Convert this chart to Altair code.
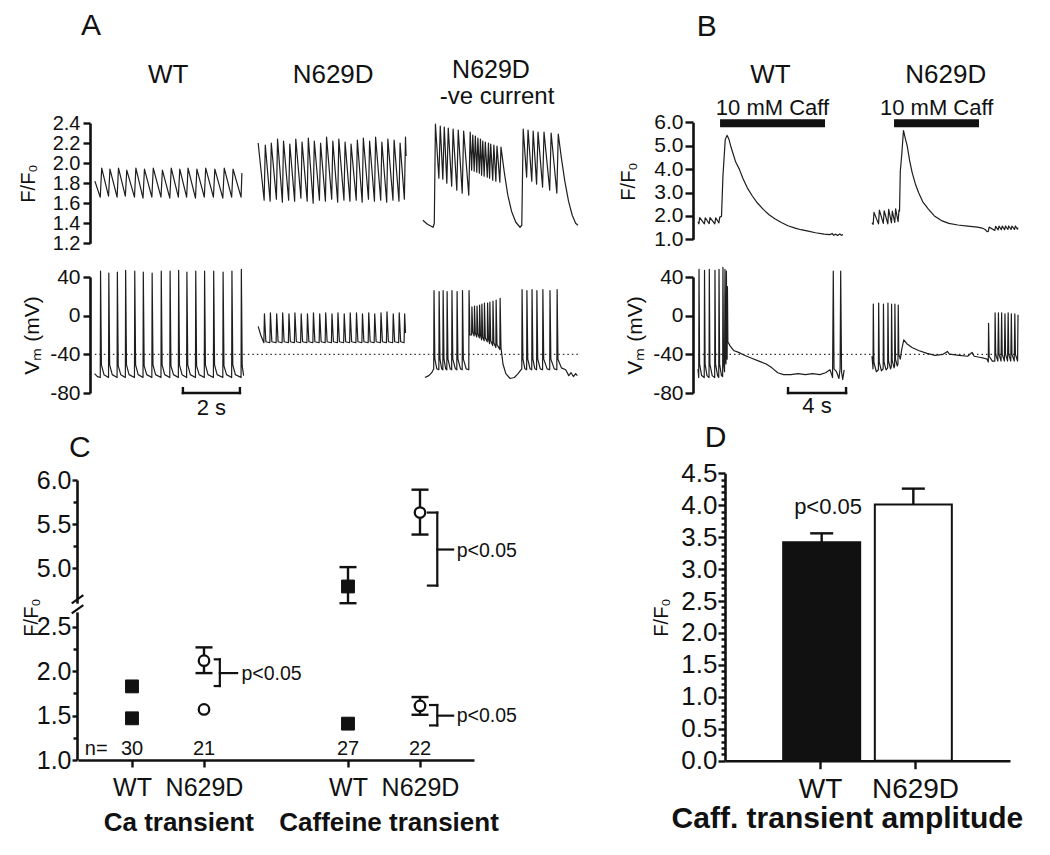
import altair as alt
import pandas as pd

FONT = "Liberation Sans"
INK = "#111111"
TRACE = "#1e1e1e"

# ------------------------------------------------------------------
# Panel A : Ca transients (F/F0) and membrane potential (mV), time in s
# ------------------------------------------------------------------
A_WT_CA = [(0.03, 1.82), (0.22, 1.66), (0.27, 1.95), (0.51, 1.67), (0.56, 1.94), (0.81, 1.66), (0.86, 1.95),
           (1.10, 1.67), (1.15, 1.93), (1.42, 1.66), (1.47, 1.95), (1.72, 1.65), (1.77, 1.94), (2.03, 1.66),
           (2.08, 1.95), (2.35, 1.66), (2.40, 1.93), (2.66, 1.65), (2.71, 1.95), (2.96, 1.66), (3.01, 1.94),
           (3.25, 1.66), (3.30, 1.95), (3.56, 1.65), (3.61, 1.94), (3.87, 1.66), (3.92, 1.95), (4.19, 1.66),
           (4.24, 1.94), (4.52, 1.65), (4.57, 1.95), (4.83, 1.66), (4.88, 1.94), (5.16, 1.66), (5.19, 1.90)]
A_N629D_CA = [(5.76, 2.20), (5.97, 1.63), (6.01, 2.18), (6.18, 1.62), (6.22, 2.20), (6.40, 1.64), (6.44, 2.24),
              (6.61, 1.61), (6.65, 2.22), (6.83, 1.63), (6.87, 2.19), (7.04, 1.62), (7.08, 2.24), (7.26, 1.65),
              (7.30, 2.21), (7.48, 1.62), (7.52, 2.25), (7.69, 1.60), (7.73, 2.22), (7.91, 1.63), (7.95, 2.20),
              (8.12, 1.62), (8.16, 2.26), (8.34, 1.64), (8.38, 2.22), (8.55, 1.61), (8.59, 2.24), (8.77, 1.63),
              (8.81, 2.21), (8.98, 1.62), (9.02, 2.19), (9.20, 1.63), (9.24, 2.23), (9.41, 1.61), (9.45, 2.25),
              (9.63, 1.64), (9.67, 2.22), (9.84, 1.62), (9.88, 2.26), (10.06, 1.63), (10.10, 2.21), (10.27, 1.61),
              (10.31, 2.24), (10.49, 1.63), (10.53, 2.23), (10.70, 1.62), (10.74, 2.20), (10.89, 1.64),
              (10.93, 2.26), (10.95, 2.07)]
A_NEG_CA = [(11.54, 1.43), (11.70, 1.39), (11.90, 1.36), (11.94, 1.40), (11.98, 2.39), (12.10, 1.85), (12.15, 2.37),
            (12.24, 1.84), (12.29, 2.36), (12.38, 1.80), (12.43, 2.35), (12.55, 1.77), (12.60, 2.34), (12.73, 1.73),
            (12.78, 2.33), (12.92, 1.70), (12.97, 2.32), (13.15, 1.68), (13.20, 2.31), (13.25, 1.93), (13.29, 2.28),
            (13.34, 1.92), (13.38, 2.27), (13.43, 1.91), (13.47, 2.25), (13.52, 1.90), (13.56, 2.24), (13.60, 1.88),
            (13.64, 2.22), (13.69, 1.87), (13.73, 2.21), (13.80, 1.86), (13.84, 2.20), (13.88, 1.85), (13.92, 2.19),
            (13.99, 1.83), (14.03, 2.18), (14.10, 1.82), (14.14, 2.17), (14.24, 1.81), (14.28, 2.16), (14.40, 1.90),
            (14.52, 1.68), (14.65, 1.52), (14.80, 1.41), (14.95, 1.36), (15.01, 1.38), (15.06, 2.34), (15.18, 1.86),
            (15.23, 2.33), (15.36, 1.82), (15.41, 2.32), (15.53, 1.79), (15.58, 2.31), (15.74, 1.76), (15.79, 2.31),
            (15.99, 1.73), (16.04, 2.30), (16.24, 1.70), (16.29, 2.29), (16.40, 2.05), (16.52, 1.82), (16.65, 1.62),
            (16.78, 1.48), (16.90, 1.40), (16.98, 1.38)]
A_WT_VM = [(0.02, -60), (0.12, -63), (0.22, -64), (0.23, 46), (0.26, -51), (0.35, -61), (0.51, -64), (0.52, 44),
           (0.55, -51), (0.64, -61), (0.81, -64), (0.82, 45), (0.85, -52), (0.94, -61), (1.10, -64), (1.11, 47),
           (1.14, -51), (1.23, -61), (1.42, -64), (1.43, 46), (1.46, -51), (1.55, -61), (1.72, -64), (1.73, 45),
           (1.76, -52), (1.85, -61), (2.03, -64), (2.04, 44), (2.07, -51), (2.16, -61), (2.35, -64), (2.36, 46),
           (2.39, -51), (2.48, -61), (2.66, -64), (2.67, 46), (2.70, -52), (2.79, -61), (2.96, -64), (2.97, 47),
           (3.00, -51), (3.09, -61), (3.25, -64), (3.26, 45), (3.29, -51), (3.38, -61), (3.56, -64), (3.57, 46),
           (3.60, -52), (3.69, -61), (3.87, -64), (3.88, 46), (3.91, -51), (4.00, -61), (4.19, -64), (4.20, 46),
           (4.23, -51), (4.32, -61), (4.52, -64), (4.53, 45), (4.56, -52), (4.65, -61), (4.83, -64), (4.84, 46),
           (4.87, -51), (4.96, -61), (5.16, -64), (5.17, 48), (5.20, -52), (5.25, -62)]
A_N629D_VM = [(5.76, -11), (5.85, -20), (5.93, -26), (5.96, -28), (5.98, 2), (6.03, -27), (6.17, -28), (6.19, 3),
              (6.24, -27), (6.39, -28), (6.41, 2), (6.46, -27), (6.60, -28), (6.62, 3), (6.67, -27), (6.82, -28),
              (6.84, 2), (6.89, -27), (7.03, -28), (7.05, 3), (7.10, -27), (7.25, -28), (7.27, 2), (7.32, -27),
              (7.47, -28), (7.49, 2), (7.54, -27), (7.68, -28), (7.70, 3), (7.75, -27), (7.90, -28), (7.92, 2),
              (7.97, -27), (8.11, -28), (8.13, 3), (8.18, -27), (8.33, -28), (8.35, 2), (8.40, -27), (8.54, -28),
              (8.56, 3), (8.61, -27), (8.76, -28), (8.78, 2), (8.83, -27), (8.97, -28), (8.99, 3), (9.04, -27),
              (9.19, -28), (9.21, 3), (9.26, -27), (9.40, -28), (9.42, 2), (9.47, -27), (9.62, -28), (9.64, 3),
              (9.69, -27), (9.83, -28), (9.85, 2), (9.90, -27), (10.05, -28), (10.07, 3), (10.12, -27),
              (10.26, -28), (10.28, 4), (10.33, -27), (10.48, -28), (10.50, 2), (10.55, -27), (10.69, -28),
              (10.71, 3), (10.76, -27), (10.88, -28), (10.90, 2), (10.93, -18)]
A_NEG_VM = [(11.61, -64), (11.75, -62), (11.85, -59), (11.92, -55), (11.93, 26), (11.96, -45), (12.03, -55),
            (12.10, -56), (12.11, 25), (12.14, -45), (12.20, -55), (12.24, -56), (12.25, 26), (12.28, -45),
            (12.34, -55), (12.38, -56), (12.39, 25), (12.42, -45), (12.50, -55), (12.55, -56), (12.56, 26),
            (12.59, -45), (12.68, -55), (12.73, -56), (12.74, 25), (12.77, -45), (12.86, -55), (12.92, -56),
            (12.93, 26), (12.96, -45), (13.06, -55), (13.15, -56), (13.16, 26), (13.19, -20), (13.25, -20),
            (13.26, 9), (13.29, -17), (13.34, -21), (13.35, 10), (13.38, -18), (13.43, -22), (13.44, 10),
            (13.47, -19), (13.52, -23), (13.53, 11), (13.56, -20), (13.60, -25), (13.61, 12), (13.64, -22),
            (13.69, -26), (13.70, 13), (13.73, -23), (13.80, -27), (13.81, 13), (13.84, -24), (13.88, -29),
            (13.89, 14), (13.92, -26), (13.99, -31), (14.00, 15), (14.03, -28), (14.10, -33), (14.11, 16),
            (14.14, -30), (14.24, -35), (14.25, 18), (14.28, -33), (14.35, -50), (14.45, -60), (14.60, -65),
            (14.75, -64), (14.88, -60), (14.98, -56), (15.01, -55), (15.02, 27), (15.05, -45), (15.12, -55),
            (15.18, -56), (15.19, 26), (15.22, -45), (15.30, -55), (15.36, -56), (15.37, 27), (15.40, -45),
            (15.47, -55), (15.53, -56), (15.54, 26), (15.57, -45), (15.66, -55), (15.74, -56), (15.75, 27),
            (15.78, -45), (15.90, -55), (15.99, -56), (16.00, 26), (16.03, -45), (16.15, -55), (16.24, -56),
            (16.25, 27), (16.28, -45), (16.40, -54), (16.55, -56), (16.66, -62), (16.74, -59), (16.82, -63),
            (16.90, -60), (16.96, -62)]
A_REF_MV = -40
A_REF_SPAN = (0.03, 17.0)
A_SCALEBAR = (3.12, 5.12)

# ------------------------------------------------------------------
# Panel B : 10 mM caffeine application
# ------------------------------------------------------------------
B_WT_CA = [(0.00, 1.75), (0.06, 1.66), (0.12, 1.93), (0.44, 1.66), (0.50, 1.92), (0.77, 1.67), (0.83, 1.93),
           (1.16, 1.66), (1.22, 1.92), (1.44, 1.70), (1.50, 1.95), (1.62, 1.98), (1.72, 3.70), (1.88, 5.27),
           (2.00, 5.44), (2.12, 5.30), (2.25, 5.00), (2.40, 4.70), (2.60, 4.30), (2.85, 4.00), (3.10, 3.60),
           (3.40, 3.20), (3.75, 2.85), (4.10, 2.55), (4.50, 2.28), (4.90, 2.05), (5.30, 1.88), (5.75, 1.72),
           (6.20, 1.58), (6.70, 1.48), (7.10, 1.41), (7.60, 1.35), (8.10, 1.28), (8.70, 1.22), (9.10, 1.20),
           (9.25, 1.25), (9.35, 1.17), (9.50, 1.22), (9.62, 1.16), (9.78, 1.23), (9.90, 1.17), (10.00, 1.20)]
B_N629D_CA = [(12.00, 1.70), (12.08, 1.64), (12.14, 2.15), (12.45, 1.66), (12.51, 2.25), (12.78, 1.68),
              (12.84, 2.22), (13.09, 1.66), (13.15, 2.28), (13.34, 1.70), (13.40, 2.20), (13.57, 1.72),
              (13.63, 2.30), (13.80, 1.75), (13.86, 2.25), (13.90, 2.20), (13.95, 3.90), (14.05, 4.60),
              (14.17, 5.65), (14.30, 5.30), (14.43, 4.98), (14.60, 4.35), (14.77, 3.85), (15.00, 3.35),
              (15.21, 3.00), (15.50, 2.60), (15.89, 2.29), (16.30, 2.00), (16.79, 1.80), (17.30, 1.68),
              (17.92, 1.61), (18.60, 1.56), (19.27, 1.52), (19.60, 1.48), (19.80, 1.42), (19.94, 1.33),
              (20.02, 1.34), (20.08, 1.52), (20.47, 1.38), (20.53, 1.55), (20.70, 1.40), (20.76, 1.56),
              (20.92, 1.41), (20.98, 1.56), (21.15, 1.41), (21.21, 1.57), (21.37, 1.42), (21.43, 1.57),
              (21.59, 1.42), (21.65, 1.56), (21.83, 1.42), (21.89, 1.57), (22.03, 1.43), (22.07, 1.50)]
B_WT_VM = [(0.00, -55), (0.05, -64), (0.07, 48), (0.11, -50), (0.25, -62), (0.43, -64), (0.45, 47), (0.49, -50),
           (0.62, -62), (0.76, -64), (0.78, 48), (0.82, -50), (0.98, -62), (1.15, -64), (1.17, 47), (1.21, -50),
           (1.35, -62), (1.43, -64), (1.45, 48), (1.49, -50), (1.62, -62), (1.70, -63), (1.72, 50), (1.76, -48),
           (1.83, -58), (1.86, 48), (1.89, -45), (1.93, -50), (1.96, 46), (1.99, -38), (2.01, -45), (2.03, 30),
           (2.06, -27), (2.20, -31), (2.45, -36), (2.80, -38), (3.20, -41), (3.70, -44), (4.20, -47), (4.70, -50),
           (5.10, -54), (5.50, -59), (5.90, -61), (6.40, -61), (6.90, -60), (7.40, -61), (7.90, -60), (8.40, -61),
           (8.80, -59), (9.10, -56), (9.20, -60), (9.28, -64), (9.33, 46), (9.38, -55), (9.55, -58), (9.72, -65),
           (9.80, -55), (9.84, 46), (9.90, -58), (9.98, -66), (10.08, -56)]
B_N629D_VM = [(12.00, -42), (12.07, -55), (12.09, 12), (12.13, -48), (12.30, -58), (12.44, -56), (12.46, 13),
              (12.50, -48), (12.65, -57), (12.77, -55), (12.79, 12), (12.83, -48), (12.97, -56), (13.08, -54),
              (13.10, 13), (13.14, -47), (13.28, -55), (13.33, -53), (13.35, 12), (13.39, -46), (13.52, -54),
              (13.56, -52), (13.58, 12), (13.62, -45), (13.74, -52), (13.79, -50), (13.81, 11), (13.85, -40),
              (13.95, -45), (14.05, -35), (14.19, -25), (14.40, -29), (14.76, -33), (15.21, -36), (15.80, -39),
              (16.34, -41), (16.90, -40), (17.20, -37), (17.35, -40), (17.48, -40), (18.00, -41), (18.60, -42),
              (18.90, -38), (19.05, -42), (19.40, -43), (19.72, -44), (19.94, -45), (20.02, -48), (20.04, -8),
              (20.08, -42), (20.30, -47), (20.47, -47), (20.49, 3), (20.53, -40), (20.68, -47), (20.72, 3),
              (20.76, -40), (20.90, -47), (20.94, 3), (20.98, -40), (21.13, -47), (21.17, 2), (21.21, -40),
              (21.35, -47), (21.39, 3), (21.43, -40), (21.57, -47), (21.61, 2), (21.65, -40), (21.81, -47),
              (21.85, 2), (21.89, -40), (22.04, -47), (22.07, 1)]
B_CAFF = [(1.52, 8.76), (13.52, 19.38)]
B_REF_SPAN = (0.0, 22.07)
B_SCALEBAR = (6.21, 10.21)

# ------------------------------------------------------------------
# Panel C : mean +/- SEM, broken F/F0 axis
# ------------------------------------------------------------------
C_POS = [1, 2, 4, 5]
C_N = ["30", "21", "27", "22"]
C_LOW_POS = [1, 1, 2, 2, 4, 5]
C_LOW_GENO = ["WT", "WT", "N629D", "N629D", "WT", "N629D"]
C_LOW_MEAN = [1.83, 1.47, 2.12, 1.57, 1.41, 1.61]
C_LOW_LO = [1.80, 1.45, 1.98, 1.54, 1.37, 1.51]
C_LOW_HI = [1.86, 1.49, 2.27, 1.60, 1.45, 1.71]
C_HIGH_POS = [4, 5]
C_HIGH_GENO = ["WT", "N629D"]
C_HIGH_MEAN = [4.79, 5.63]
C_HIGH_LO = [4.60, 5.38]
C_HIGH_HI = [5.01, 5.89]

# ------------------------------------------------------------------
# Panel D : caffeine transient amplitude
# ------------------------------------------------------------------
D_POS = [1, 2]
D_GENO = ["WT", "N629D"]
D_MEAN = [3.42, 4.01]
D_TOP = [3.56, 4.26]


# ============================ helpers =============================
def px(v):
    return v - 8


def lin(domain, rng):
    return alt.Scale(domain=domain, range=[px(r) for r in rng], nice=False, zero=False)


A_X = lin([0, 17.1], [94, 581.35])
A_CA = lin([1.2, 2.4], [243.3, 123])
VM = lin([-80, 40], [393, 277])
B_X = lin([0, 22.2], [698, 1019.9])
B_CA = lin([1, 6], [239.3, 122.3])
C_X = lin([0.25, 5.75], [78, 474])
C_LO = lin([1.0, 2.67], [760, 611.9])
C_HI = lin([4.6, 6.0], [603.2, 480])
D_X = lin([0, 3], [725, 1010])
D_Y = lin([0, 4.5], [760.7, 473.3])


def left_axis(X, values, labels=True, fmt=None, expr=None, size=22, tick=7, pad=3,
              title="", tx=0, ty=0, tsize=21, domain=True):
    kw = dict(orient="left", offset=8 - X, values=values, grid=False, ticks=True,
              tickSize=tick, tickWidth=2.4, tickColor=INK, domain=domain,
              domainWidth=2.6, domainColor=INK, labels=labels, labelOverlap=False,
              labelFlush=False, title=title)
    if labels:
        kw.update(labelFont=FONT, labelFontSize=size, labelColor=INK, labelPadding=pad)
        if expr:
            kw["labelExpr"] = expr
        elif fmt:
            kw["format"] = fmt
    if title:
        kw.update(titleX=tx, titleY=ty, titleFont=FONT, titleFontSize=tsize,
                  titleFontWeight="normal", titleColor=INK, titleAngle=270,
                  titleBaseline="alphabetic", titleAlign="center")
    return alt.Axis(**kw)


def bottom_axis(Y, values, expr, size, tick, pad):
    return alt.Axis(orient="bottom", offset=Y - 847, values=values, labelExpr=expr, grid=False,
                    tickSize=tick, tickWidth=2.4, tickColor=INK, domainWidth=2.6, domainColor=INK,
                    labelFont=FONT, labelFontSize=size, labelColor=INK, labelPadding=pad,
                    labelOverlap=False, labelFlush=False, title="")


def XQ(field, scale, axis=None):
    return alt.X(f"{field}:Q", scale=scale, axis=axis)


def YQ(field, scale, axis=None):
    return alt.Y(f"{field}:Q", scale=scale, axis=axis)


def y_axis_layer(values, scale, axis):
    """Invisible marks that only carry an axis for the given scale."""
    return alt.Chart(pd.DataFrame({"v": values})).mark_point(opacity=0).encode(y=YQ("v", scale, axis))


def x_axis_layer(values, scale, axis):
    return alt.Chart(pd.DataFrame({"v": values})).mark_point(opacity=0).encode(x=XQ("v", scale, axis))


def traces(sx, sy, named):
    rows = []
    for name, pts in named.items():
        for i, (t, v) in enumerate(pts):
            rows.append({"trace": name, "i": i, "t": t, "v": v})
    return alt.Chart(pd.DataFrame(rows)).mark_line(
        color=TRACE, strokeWidth=1.2, strokeJoin="round").encode(
        x=XQ("t", sx), y=YQ("v", sy), detail="trace:N", order=alt.Order("i:Q"))


def texts(rows, sx, sy, size, weight="normal", align="center"):
    df = pd.DataFrame(rows, columns=["s", "x", "y"])
    return alt.Chart(df).mark_text(font=FONT, fontSize=size, fontWeight=weight, color=INK,
                                   align=align, baseline="alphabetic").encode(
        x=XQ("x", sx), y=YQ("y", sy), text="s:N")


def segments(rows, sx, sy, width=2.4, dash=None, color=INK, cap="square"):
    df = pd.DataFrame(rows, columns=["x", "x2", "y", "y2"])
    mk = dict(color=color, strokeWidth=width, strokeCap=cap)
    if dash:
        mk["strokeDash"] = dash
    return alt.Chart(df).mark_rule(**mk).encode(
        x=XQ("x", sx), x2=alt.X2("x2"), y=YQ("y", sy), y2=alt.Y2("y2"))


VM_EXPR = "datum.value < 0 ? '-' + abs(datum.value) : '' + datum.value"
CA_A_TICKS = [1.2, 1.4, 1.6, 1.8, 2.0, 2.2, 2.4]
CA_B_TICKS = [1, 2, 3, 4, 5, 6]
VM_TICKS = [-80, -40, 0, 40]

# ============================ Panel A =============================
a_ca_axis = left_axis(90, CA_A_TICKS, fmt=".1f", size=20, tick=7, pad=3,
                      title="F/F\u2080", tx=-56, ty=175, tsize=20)
a_vm_axis = left_axis(90, VM_TICKS, expr=VM_EXPR, size=21, tick=7, pad=3,
                      title="V\u2098 (mV)", tx=-52, ty=327, tsize=21)

panel_a_ca = alt.layer(
    traces(A_X, A_CA, {"wt": A_WT_CA, "mut": A_N629D_CA, "neg": A_NEG_CA}),
    texts([("WT", 2.6, 2.80), ("N629D", 8.39, 2.80)], A_X, A_CA, 26),
    texts([("N629D", 13.93, 2.85)], A_X, A_CA, 25),
    texts([("-ve current", 14.14, 2.59)], A_X, A_CA, 24),
    texts([("A", -0.105, 3.28)], A_X, A_CA, 30),
)
panel_a_vm = alt.layer(
    segments([(A_REF_SPAN[0], A_REF_SPAN[1], A_REF_MV, A_REF_MV)], A_X, VM, width=1.3,
             dash=[1.5, 3], color="#333333", cap="butt"),
    traces(A_X, VM, {"wt": A_WT_VM, "mut": A_N629D_VM, "neg": A_NEG_VM}),
    segments([(A_SCALEBAR[0], A_SCALEBAR[1], -80, -80), (A_SCALEBAR[0], A_SCALEBAR[0], -80, -75),
              (A_SCALEBAR[1], A_SCALEBAR[1], -80, -75)], A_X, VM, width=2.4),
    texts([("2 s", (A_SCALEBAR[0] + A_SCALEBAR[1]) / 2, -102.8)], A_X, VM, 22),
)

# ============================ Panel B =============================
b_ca_axis = left_axis(693, CA_B_TICKS, fmt=".1f", size=21, tick=8, pad=2,
                      title="F/F\u2080", tx=-59, ty=173, tsize=20)
b_vm_axis = left_axis(693, VM_TICKS, expr=VM_EXPR, size=21, tick=8, pad=2,
                      title="V\u2098 (mV)", tx=-52, ty=327, tsize=21)

panel_b_ca = alt.layer(
    traces(B_X, B_CA, {"wt": B_WT_CA, "mut": B_N629D_CA}),
    segments([(a, b, 5.96, 5.96) for a, b in B_CAFF], B_X, B_CA, width=8, cap="butt"),
    texts([("10 mM Caff", 5.14, 6.31), ("10 mM Caff", 16.46, 6.31)], B_X, B_CA, 22),
    texts([("WT", 5.0, 7.67), ("N629D", 17.09, 7.67)], B_X, B_CA, 26),
    texts([("B", 0.6, 9.70)], B_X, B_CA, 30),
)
panel_b_vm = alt.layer(
    segments([(B_REF_SPAN[0], B_REF_SPAN[1], -40, -40)], B_X, VM, width=1.3,
             dash=[1.5, 3], color="#333333", cap="butt"),
    traces(B_X, VM, {"wt": B_WT_VM, "mut": B_N629D_VM}),
    segments([(B_SCALEBAR[0], B_SCALEBAR[1], -80, -80), (B_SCALEBAR[0], B_SCALEBAR[0], -80, -75),
              (B_SCALEBAR[1], B_SCALEBAR[1], -80, -75)], B_X, VM, width=2.4),
    texts([("4 s", (B_SCALEBAR[0] + B_SCALEBAR[1]) / 2, -101)], B_X, VM, 22),
)

# ============================ Panel C =============================
c_low_df = pd.DataFrame({"pos": C_LOW_POS, "g": C_LOW_GENO, "mean": C_LOW_MEAN,
                         "lo": C_LOW_LO, "hi": C_LOW_HI})
c_high_df = pd.DataFrame({"pos": C_HIGH_POS, "g": C_HIGH_GENO, "mean": C_HIGH_MEAN,
                          "lo": C_HIGH_LO, "hi": C_HIGH_HI})

c_x_axis = bottom_axis(760, C_POS, "datum.value == 1 || datum.value == 4 ? 'WT' : 'N629D'",
                       size=25, tick=7, pad=8)
c_lo_axis = left_axis(77, [1.0, 1.5, 2.0, 2.5], fmt=".1f", size=25, tick=5, pad=1,
                      title="F/F\u2080", tx=-40, ty=609, tsize=20)
c_hi_axis = left_axis(77, [5.0, 5.5, 6.0], fmt=".1f", size=25, tick=5, pad=1)


def c_markers(df, sy):
    # error bars hidden behind the symbol (SEM smaller than the marker) are not drawn
    visible = "datum.hi - datum.lo > 0.12"
    err = alt.Chart(df).transform_filter(visible).mark_rule(color=INK, strokeWidth=2.4).encode(
        x=XQ("pos", C_X), y=YQ("lo", sy), y2=alt.Y2("hi"))
    caps = alt.Chart(df).transform_filter(visible).transform_fold(["lo", "hi"], as_=["k", "cap"]).mark_tick(
        orient="horizontal", size=17, thickness=2.4, color=INK, opacity=1).encode(
        x=XQ("pos", C_X), y=YQ("cap", sy))
    sq = alt.Chart(df).transform_filter("datum.g == 'WT'").mark_point(
        shape="square", filled=True, fill=INK, stroke=INK, strokeWidth=1, size=165, opacity=1).encode(
        x=XQ("pos", C_X), y=YQ("mean", sy))
    ci = alt.Chart(df).transform_filter("datum.g == 'N629D'").mark_point(
        shape="circle", filled=True, fill="white", stroke=INK, strokeWidth=2.3, size=110, opacity=1).encode(
        x=XQ("pos", C_X), y=YQ("mean", sy))
    return [err, caps, sq, ci]


panel_c_low = alt.layer(
    segments([(2.22, 2.22, 2.135, 1.834), (2.15, 2.22, 2.135, 2.135), (2.15, 2.22, 1.834, 1.834),
              (2.22, 2.46, 1.98, 1.98),
              (5.24, 5.24, 1.62, 1.39), (5.14, 5.24, 1.62, 1.62), (5.14, 5.24, 1.39, 1.39),
              (5.24, 5.46, 1.50, 1.50)], C_X, C_LO, width=2.2),
    segments([(0.163, 0.324, 2.654, 2.747), (0.163, 0.324, 2.767, 2.860)], C_X, C_LO, width=2.2, cap="butt"),
    *c_markers(c_low_df, C_LO),
    texts([("n=", 0.503, 1.056)] + [(n, p, 1.056) for n, p in zip(C_N, C_POS)], C_X, C_LO, 20),
    texts([("p<0.05", 2.52, 1.90), ("p<0.05", 5.51, 1.43)], C_X, C_LO, 19.5, align="left"),
    texts([("Ca transient", 1.65, 0.203), ("Caffeine transient", 4.57, 0.203)], C_X, C_LO, 26,
          weight="bold"),
)
panel_c_high = alt.layer(
    segments([(5.24, 5.24, 5.63, 4.80), (5.11, 5.24, 5.63, 5.63), (5.11, 5.24, 4.80, 4.80),
              (5.24, 5.46, 5.21, 5.21)], C_X, C_HI, width=2.2),
    *c_markers(c_high_df, C_HI),
    texts([("p<0.05", 5.51, 5.13)], C_X, C_HI, 19.5, align="left"),
    texts([("C", 0.274, 6.258)], C_X, C_HI, 30),
)

# ============================ Panel D =============================
d_df = pd.DataFrame({"pos": D_POS, "g": D_GENO, "mean": D_MEAN, "top": D_TOP})
d_x_axis = bottom_axis(760.7, D_POS, "datum.value == 1 ? 'WT' : 'N629D'", size=28, tick=8, pad=7)
D_TICKS = [0, 0.5, 1.0, 1.5, 2.0, 2.5, 3.0, 3.5, 4.0, 4.5]
d_y_axis = left_axis(725, D_TICKS, fmt=".1f", size=26, tick=7, pad=1,
                     title="F/F\u2080", tx=-58, ty=609, tsize=20)
d_minor_vals = [round(i * 0.1, 1) for i in range(1, 45) if i % 5]

panel_d = alt.layer(
    alt.Chart(d_df).mark_rule(color=INK, strokeWidth=2.4).encode(
        x=XQ("pos", D_X), y=YQ("mean", D_Y), y2=alt.Y2("top")),
    alt.Chart(d_df).mark_tick(orient="horizontal", size=23, thickness=2.4, color=INK, opacity=1).encode(
        x=XQ("pos", D_X), y=YQ("top", D_Y)),
    alt.Chart(d_df).mark_bar(size=77, stroke=INK, strokeWidth=2).encode(
        x=XQ("pos", D_X), y=YQ("mean", D_Y), y2=alt.datum(0),
        fill=alt.condition("datum.g == 'WT'", alt.value(INK), alt.value("white"))),
    texts([("p<0.05", 1.07, 3.87)], D_X, D_Y, 22),
    texts([("Caff. transient amplitude", 1.281, -1.058)], D_X, D_Y, 30, weight="bold"),
    texts([("D", -0.158, 4.916)], D_X, D_Y, 30),
)

# ============================ axes ================================
axis_layers = [
    y_axis_layer(CA_A_TICKS, A_CA, a_ca_axis),
    y_axis_layer(VM_TICKS, VM, a_vm_axis),
    y_axis_layer(CA_B_TICKS, B_CA, b_ca_axis),
    y_axis_layer(VM_TICKS, VM, b_vm_axis),
    y_axis_layer([1.0, 2.5], C_LO, c_lo_axis),
    y_axis_layer([5.0, 6.0], C_HI, c_hi_axis),
    y_axis_layer([1.25, 1.75, 2.25], C_LO, left_axis(77, [1.25, 1.75, 2.25], labels=False, tick=4, domain=False)),
    y_axis_layer([5.25, 5.75], C_HI, left_axis(77, [5.25, 5.75], labels=False, tick=4, domain=False)),
    x_axis_layer(C_POS, C_X, c_x_axis),
    y_axis_layer(D_TICKS, D_Y, d_y_axis),
    y_axis_layer(d_minor_vals, D_Y, left_axis(725, d_minor_vals, labels=False, tick=4, domain=False)),
    x_axis_layer(D_POS, D_X, d_x_axis),
]

chart = alt.layer(
    panel_a_ca, panel_a_vm, panel_b_ca, panel_b_vm,
    panel_c_low, panel_c_high, panel_d, *axis_layers,
).resolve_scale(x="independent", y="independent").resolve_axis(
    x="independent", y="independent"
).properties(
    width=1034, height=839, padding=0, background="white",
    autosize=alt.AutoSizeParams(type="none"),
).configure_view(stroke="transparent")

chart.save("out.html", embed_options={"renderer": "svg", "actions": False})
